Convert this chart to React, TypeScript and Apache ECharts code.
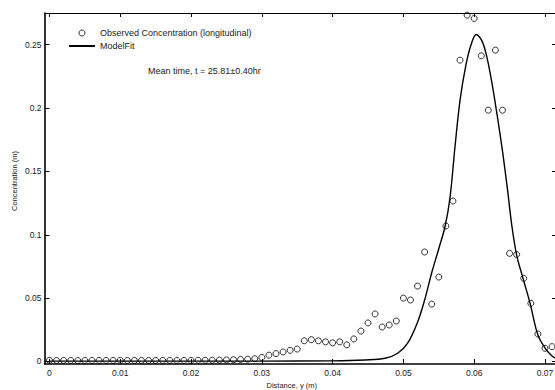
import React, { useEffect, useRef } from "react";
import * as echarts from "echarts";

const observedX: number[] = [
  0, 0.001, 0.002, 0.003, 0.004, 0.005, 0.006, 0.007, 0.008, 0.009,
  0.01, 0.011, 0.012, 0.013, 0.014, 0.015, 0.016, 0.017, 0.018, 0.019,
  0.02, 0.021, 0.022, 0.023, 0.024, 0.025, 0.026, 0.027, 0.028, 0.029,
  0.03, 0.031, 0.032, 0.033, 0.034, 0.035, 0.036, 0.037, 0.038, 0.039,
  0.04, 0.041, 0.042, 0.043, 0.044, 0.045, 0.046, 0.047, 0.048, 0.049,
  0.05, 0.051, 0.052, 0.053, 0.054, 0.055, 0.056, 0.057, 0.058, 0.059,
  0.06, 0.061, 0.062, 0.063, 0.064, 0.065, 0.066, 0.067, 0.068, 0.069,
  0.07, 0.071,
];
const observedY: number[] = [
  0.0009, 0.0008, 0.0008, 0.0008, 0.0007, 0.0008, 0.0008, 0.0008, 0.0008, 0.0008,
  0.0009, 0.0008, 0.0008, 0.0008, 0.0008, 0.0008, 0.0008, 0.0008, 0.0008, 0.0008,
  0.0008, 0.0009, 0.0009, 0.001, 0.0011, 0.0012, 0.0014, 0.0016, 0.0018, 0.0022,
  0.0032, 0.005, 0.0062, 0.0075, 0.0088, 0.0098, 0.0163, 0.0172, 0.0163, 0.0155,
  0.0147, 0.0155, 0.0131, 0.0178, 0.024, 0.0304, 0.0375, 0.0272, 0.0288, 0.0319,
  0.05, 0.0485, 0.0595, 0.0864, 0.0453, 0.0666, 0.1069, 0.1266, 0.2378, 0.2733,
  0.2707, 0.2412, 0.1983, 0.2457, 0.1983, 0.0853, 0.0844, 0.0656, 0.0459, 0.0217,
  0.0104, 0.0117,
];

const modelX: number[] = [
  0, 0.01, 0.02, 0.03, 0.04, 0.0446, 0.0474, 0.0492, 0.0506, 0.052,
  0.053, 0.054, 0.055, 0.0559, 0.0566, 0.0573, 0.058, 0.0588, 0.0595, 0.0603,
  0.0611, 0.0618, 0.0625, 0.0632, 0.064, 0.0647, 0.0653, 0.066, 0.0669, 0.0679,
  0.069, 0.0702, 0.071, 0.0717,
];
const modelY: number[] = [
  0.0003, 0.0003, 0.0003, 0.0003, 0.0005, 0.0012, 0.0025, 0.0065, 0.0144, 0.031,
  0.0485, 0.07, 0.089, 0.1069, 0.13, 0.17, 0.206, 0.233, 0.249, 0.258,
  0.253, 0.24, 0.22, 0.196, 0.166, 0.136, 0.108, 0.084, 0.0656, 0.0459,
  0.0209, 0.0091, 0.0043, 0.002,
];

const xTicks: number[] = [0, 0.01, 0.02, 0.03, 0.04, 0.05, 0.06, 0.07];
const yTicks: number[] = [0, 0.05, 0.1, 0.15, 0.2, 0.25];

const observedName = "Observed Concentration (longitudinal)";
const modelName = "ModelFit";
const annotation = "Mean time, t = 25.81\u00b10.40hr";
const xTitle = "Distance, y (m)";
const yTitle = "Concentration (m)";

const FONT = "'Liberation Sans', Arial, Helvetica, sans-serif";
const TXT = "#1a1a1a";

export default function App() {
  const ref = useRef<HTMLDivElement>(null);

  useEffect(() => {
    if (!ref.current) return;
    const chart = echarts.init(ref.current, undefined, { renderer: "svg" });
    const fmt = (v: number) => String(+Number(v).toFixed(2));
    const xMin = -0.0007;
    const xMax = 0.0717;
    const yMin = -0.002;
    const yMax = 0.275;

    chart.setOption({
      animation: false,
      backgroundColor: "#ffffff",
      textStyle: { fontFamily: FONT },
      grid: { left: 44.5, right: -2, top: 13, bottom: 26, containLabel: false, outerBoundsMode: "none" },
      legend: {
        orient: "vertical",
        left: 68,
        top: 28,
        padding: 0,
        itemWidth: 26,
        itemHeight: 6,
        itemGap: 3,
        textStyle: { fontSize: 9, color: TXT, fontFamily: FONT, lineHeight: 10 },
        data: [
          { name: observedName, icon: "circle", itemStyle: { color: "#fff", borderColor: "#000", borderWidth: 1 } },
          { name: modelName, itemStyle: { opacity: 0 } },
        ],
      },
      xAxis: [
        {
          type: "value",
          position: "bottom",
          min: xMin,
          max: xMax,
          name: xTitle,
          nameLocation: "middle",
          nameGap: 12,
          nameTextStyle: { fontSize: 7.5, color: TXT, fontFamily: FONT, padding: [0, 18, 0, 0] },
          axisLine: { show: true, onZero: false, lineStyle: { color: "#000", width: 1.6 } },
          axisTick: { show: true, inside: true, length: 5, customValues: xTicks, lineStyle: { color: "#000", width: 1 } },
          axisLabel: { show: true, customValues: xTicks, formatter: fmt, fontSize: 8.5, color: TXT, margin: 4, fontFamily: FONT },
          splitLine: { show: false },
        },
        {
          type: "value",
          position: "top",
          min: xMin,
          max: xMax,
          axisLine: { show: true, onZero: false, lineStyle: { color: "#000", width: 1 } },
          axisTick: { show: true, inside: true, length: 4, customValues: xTicks, lineStyle: { color: "#000", width: 1 } },
          axisLabel: { show: false },
          splitLine: { show: false },
        },
      ],
      yAxis: [
        {
          type: "value",
          position: "left",
          min: yMin,
          max: yMax,
          axisLine: { show: true, onZero: false, lineStyle: { color: "#000", width: 1.6 } },
          axisTick: { show: true, inside: true, length: 5, customValues: yTicks, lineStyle: { color: "#000", width: 1 } },
          axisLabel: { show: true, customValues: yTicks, formatter: fmt, fontSize: 8.5, color: TXT, margin: 3, fontFamily: FONT },
          splitLine: { show: false },
        },
        {
          type: "value",
          position: "right",
          min: yMin,
          max: yMax,
          axisLine: { show: false, onZero: false },
          axisTick: { show: true, inside: true, length: 5, customValues: yTicks, lineStyle: { color: "#000", width: 1 } },
          axisLabel: { show: false },
          splitLine: { show: false },
        },
      ],
      graphic: [
        {
          type: "text",
          left: 148,
          top: 66,
          style: { text: annotation, fontSize: 9, fill: TXT, fontFamily: FONT },
        },
        {
          type: "text",
          x: 14,
          y: 181,
          rotation: Math.PI / 2,
          style: { text: yTitle, fontSize: 7.5, fill: TXT, fontFamily: FONT, align: "center", verticalAlign: "middle" },
        },
      ],
      series: [
        {
          name: modelName,
          type: "line",
          xAxisIndex: 0,
          yAxisIndex: 0,
          data: modelX.map((x, i) => [x, modelY[i]]),
          showSymbol: false,
          symbol: "none",
          symbolSize: 0,
          smooth: 0.35,
          lineStyle: { color: "#000", width: 1.4 },
          itemStyle: { color: "#000" },
          z: 2,
        },
        {
          name: observedName,
          type: "scatter",
          xAxisIndex: 0,
          yAxisIndex: 0,
          data: observedX.map((x, i) => [x, observedY[i]]),
          symbol: "circle",
          symbolSize: 6,
          itemStyle: { color: "rgba(255,255,255,0)", borderColor: "#000", borderWidth: 1 },
          z: 3,
        },
      ],
    });

    return () => chart.dispose();
  }, []);

  return <div ref={ref} style={{ width: 555, height: 390, position: "absolute", left: 0, top: 0 }} />;
}
